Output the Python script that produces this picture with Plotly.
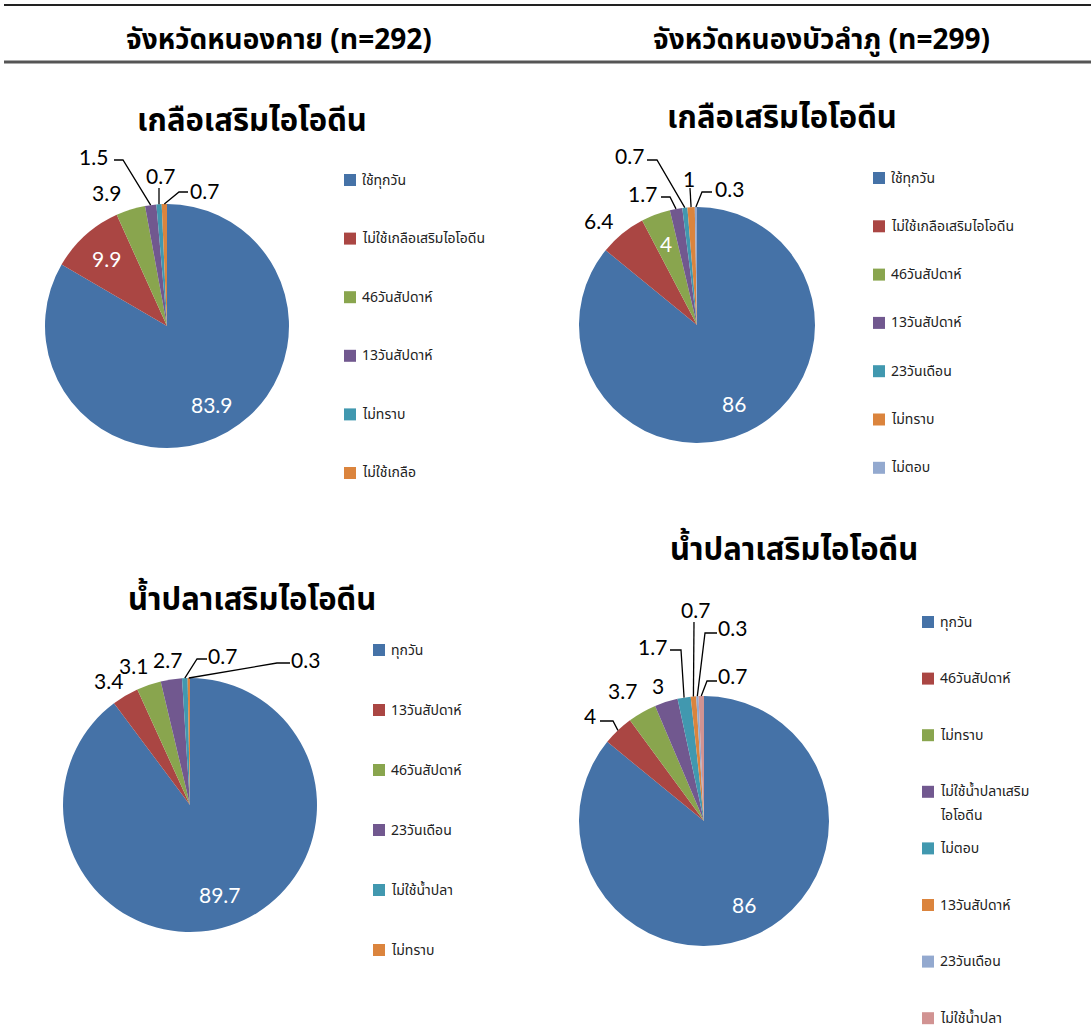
import math
import plotly.graph_objects as go

W, H = 1091, 1028

# ---- data -------------------------------------------------------------
salt_nk_labels = ["ใช้ทุกวัน", "ไม่ใช้เกลือเสริมไอโอดีน", "46วันสัปดาห์", "13วันสัปดาห์", "ไม่ทราบ", "ไม่ใช้เกลือ"]
salt_nk_values = [83.9, 9.9, 3.9, 1.5, 0.7, 0.7]

salt_nbl_labels = ["ใช้ทุกวัน", "ไม่ใช้เกลือเสริมไอโอดีน", "46วันสัปดาห์", "13วันสัปดาห์", "23วันเดือน", "ไม่ทราบ", "ไม่ตอบ"]
salt_nbl_values = [86, 6.4, 4, 1.7, 0.7, 1, 0.3]

fish_nk_labels = ["ทุกวัน", "13วันสัปดาห์", "46วันสัปดาห์", "23วันเดือน", "ไม่ใช้น้ำปลา", "ไม่ทราบ"]
fish_nk_values = [89.7, 3.4, 3.1, 2.7, 0.7, 0.3]

fish_nbl_labels = ["ทุกวัน", "46วันสัปดาห์", "ไม่ทราบ", "ไม่ใช้น้ำปลาเสริมไอโอดีน", "ไม่ตอบ", "13วันสัปดาห์", "23วันเดือน", "ไม่ใช้น้ำปลา"]
fish_nbl_values = [86, 4, 3.7, 3, 1.7, 0.7, 0.3, 0.7]

province_headers = ["จังหวัดหนองคาย (n=292)", "จังหวัดหนองบัวลำภู (n=299)"]
salt_title = "เกลือเสริมไอโอดีน"
fish_title = "น้ำปลาเสริมไอโอดีน"

# ---- styling ----------------------------------------------------------
COLORS = ["#4572A7", "#AA4643", "#89A54E", "#71588F", "#4198AF", "#DB843D", "#93A9CF", "#D19392"]
THAI_FONT = "Noto Sans Thai, Loma, Garuda, Tahoma, Noto Sans, sans-serif"
NUM_FONT = "Lato, Carlito, Open Sans, sans-serif"
# long legend entries broken over two lines
LEGEND_WRAP = {"ไม่ใช้น้ำปลาเสริมไอโอดีน": ["ไม่ใช้น้ำปลาเสริม", "ไอโอดีน"]}
LEGEND_LINE_GAP = 24


def px(x):
    return x / W


def py(y):
    return 1 - y / H


# Pixel layout of each panel: pie centre/radius, title, legend column and
# hand-placed callouts (label centre + leader polyline before reaching the rim).
panels = [
    dict(labels=salt_nk_labels, values=salt_nk_values, title=salt_title,
         center=(167, 326), r=122, title_xy=(252, 121),
         legend=dict(x=344, y0=180, dy=58.6),
         inside=[0, 1],
         callouts={2: dict(pos=(106, 192), path=None),
                   3: dict(pos=(93, 156), path=[(114, 160), (123, 160)]),
                   4: dict(pos=(160, 175), path=[(159, 188)]),
                   5: dict(pos=(204, 190), path=[(188, 192), (179, 192)])}),
    dict(labels=salt_nbl_labels, values=salt_nbl_values, title=salt_title,
         center=(697, 325), r=118, title_xy=(782, 118),
         legend=dict(x=873, y0=178, dy=48.3),
         inside=[0, 2],
         callouts={1: dict(pos=(598, 220), path=None),
                   3: dict(pos=(642, 193), path=[(661, 197), (670, 197)]),
                   4: dict(pos=(629, 155), path=[(647, 160), (657, 160)]),
                   5: dict(pos=(689, 178), path=[(690, 188)]),
                   6: dict(pos=(729, 188), path=[(712, 192), (702, 192)])}),
    dict(labels=fish_nk_labels, values=fish_nk_values, title=fish_title,
         center=(190, 805), r=127, title_xy=(252, 600),
         legend=dict(x=373, y0=650, dy=60),
         inside=[0],
         callouts={1: dict(pos=(108, 680), path=None),
                   2: dict(pos=(133, 665), path=None),
                   3: dict(pos=(167, 659), path=None),
                   4: dict(pos=(222, 655), path=[(207, 659), (197, 659)]),
                   5: dict(pos=(305, 659), path=[(290, 663), (277, 663)])}),
    dict(labels=fish_nbl_labels, values=fish_nbl_values, title=fish_title,
         center=(704, 821), r=125, title_xy=(794, 550),
         legend=dict(x=922, y0=622, dy=56.6),
         inside=[0],
         callouts={1: dict(pos=(590, 715), path=[(600, 721), (613, 721)]),
                   2: dict(pos=(622, 690), path=None),
                   3: dict(pos=(658, 685), path=None),
                   4: dict(pos=(652, 646), path=[(670, 650), (681, 650)]),
                   5: dict(pos=(695, 609), path=[(694, 622)]),
                   6: dict(pos=(732, 627), path=[(717, 633), (705, 633)]),
                   7: dict(pos=(732, 675), path=[(717, 681), (707, 681)])}),
]

fig = go.Figure()
annotations = []
shapes = []

for p in panels:
    cx, cy = p["center"]
    r = p["r"]
    vals = p["values"]
    n = len(vals)
    fig.add_trace(go.Pie(
        labels=p["labels"], values=vals, sort=False, direction="clockwise",
        rotation=0, textinfo="none", hoverinfo="label+value",
        marker=dict(colors=COLORS[:n], line=dict(width=0)),
        domain=dict(x=[px(cx - r), px(cx + r)], y=[py(cy + r), py(cy - r)]),
        showlegend=False,
    ))

    # slice mid-angles (clockwise from 12 o'clock) from the values
    total = sum(vals)
    cum = 0.0
    for i, v in enumerate(vals):
        ang = 2 * math.pi * (cum + v / 2) / total
        cum += v
        txt = f"{v:g}"
        if i in p["inside"]:
            k = 0.74 * r
            annotations.append(dict(
                x=px(cx + k * math.sin(ang)), y=py(cy - k * math.cos(ang)),
                xref="paper", yref="paper", text=txt, showarrow=False,
                font=dict(family=NUM_FONT, size=21, color="white"),
                xanchor="center", yanchor="middle"))
            continue
        c = p["callouts"][i]
        lx, ly = c["pos"]
        annotations.append(dict(
            x=px(lx), y=py(ly), xref="paper", yref="paper", text=txt,
            showarrow=False, font=dict(family=NUM_FONT, size=21, color="black"),
            xanchor="center", yanchor="middle"))
        if c["path"]:
            tip = (cx + r * math.sin(ang), cy - r * math.cos(ang))
            pts = c["path"] + [tip]
            d = "M " + " L ".join(f"{px(x):.5f},{py(y):.5f}" for x, y in pts)
            shapes.append(dict(type="path", xref="paper", yref="paper", path=d,
                               line=dict(color="black", width=1.3)))

    # panel title
    tx, ty = p["title_xy"]
    annotations.append(dict(
        x=px(tx), y=py(ty), xref="paper", yref="paper", text=f"<b>{p['title']}</b>",
        showarrow=False, font=dict(family=THAI_FONT, size=31, color="black"),
        xanchor="center", yanchor="middle"))

    # legend column
    lg = p["legend"]
    for i, lab in enumerate(p["labels"]):
        yc = lg["y0"] + i * lg["dy"]
        shapes.append(dict(type="rect", xref="paper", yref="paper",
                           x0=px(lg["x"]), x1=px(lg["x"] + 12),
                           y0=py(yc + 6), y1=py(yc - 6),
                           fillcolor=COLORS[i], line=dict(width=0)))
        for j, line in enumerate(LEGEND_WRAP.get(lab, [lab])):
            annotations.append(dict(
                x=px(lg["x"] + 16), y=py(yc + j * LEGEND_LINE_GAP),
                xref="paper", yref="paper",
                text=line, showarrow=False, align="left",
                font=dict(family=THAI_FONT, size=14, color="#222"),
                xanchor="left", yanchor="middle"))

# column headers with rules above and below
for hx, htxt in zip([279, 821], province_headers):
    annotations.append(dict(
        x=px(hx), y=py(41), xref="paper", yref="paper", text=f"<b>{htxt}</b>",
        showarrow=False, font=dict(family=THAI_FONT, size=28, color="black"),
        xanchor="center", yanchor="middle"))
shapes.append(dict(type="line", xref="paper", yref="paper", x0=px(4), x1=1,
                   y0=py(5), y1=py(5), line=dict(color="#222", width=2)))
shapes.append(dict(type="line", xref="paper", yref="paper", x0=px(4), x1=1,
                   y0=py(62), y1=py(62), line=dict(color="#555", width=3)))

fig.update_layout(
    width=W, height=H, autosize=False,
    margin=dict(l=0, r=0, t=0, b=0),
    paper_bgcolor="white", plot_bgcolor="white",
    annotations=annotations, shapes=shapes,
)

fig.write_html("out.html")
